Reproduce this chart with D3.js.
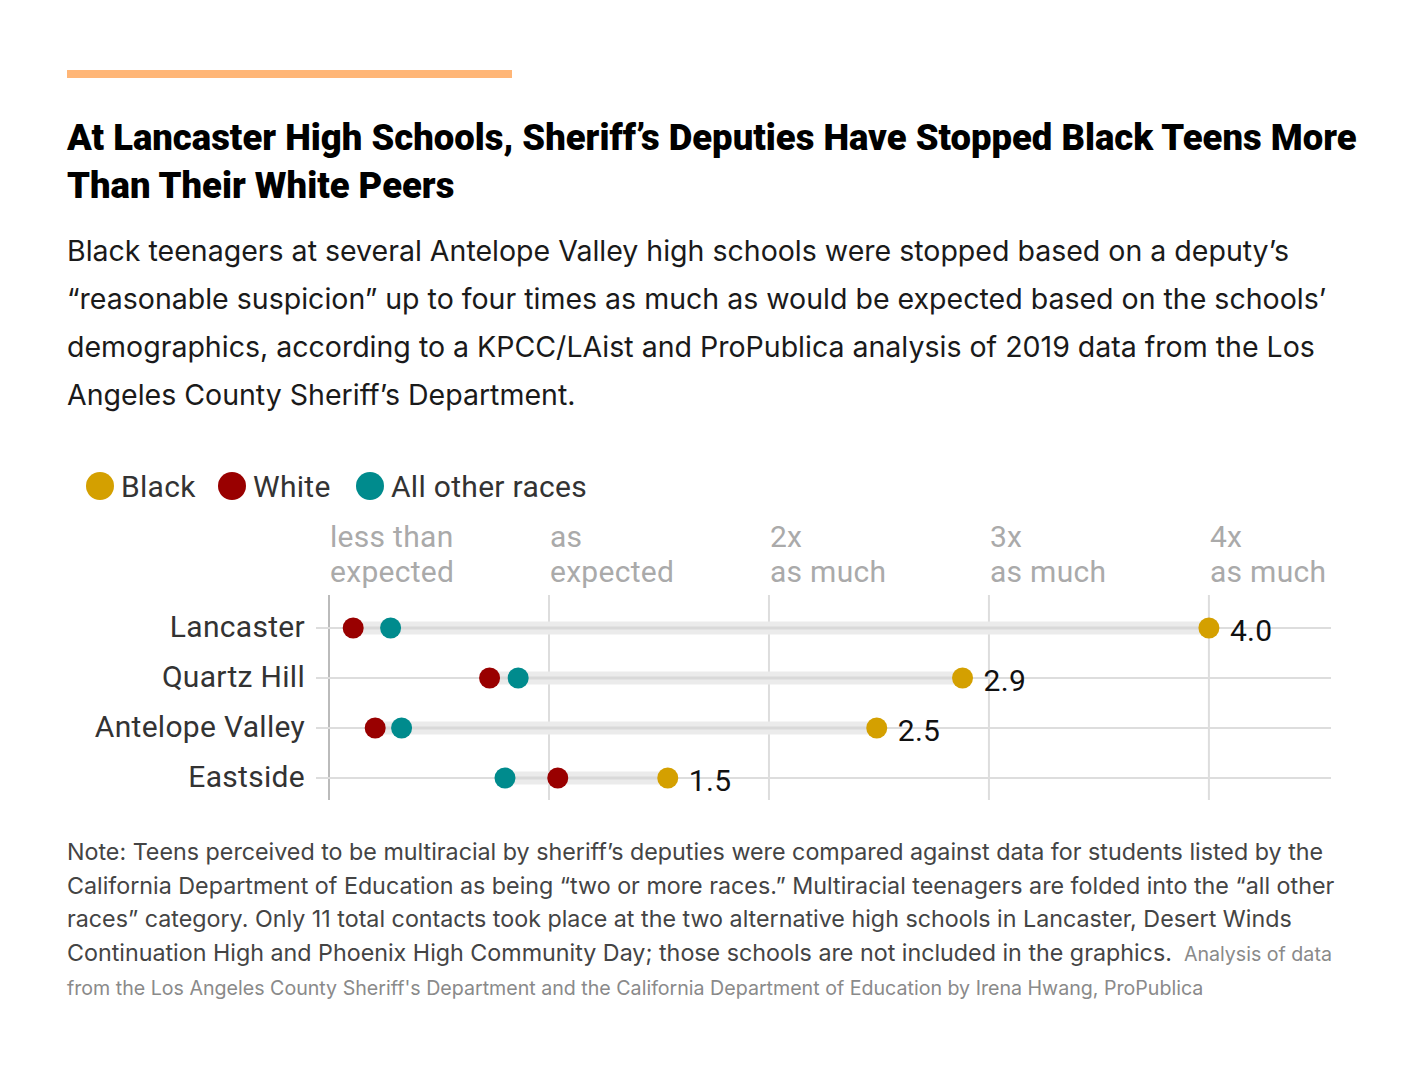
<!DOCTYPE html>
<meta charset="utf-8">
<script src="https://d3js.org/d3.v7.js"></script>
<style>
  body { margin: 0; background: #fff; }
</style>
<div id="my_dataviz"></div>
<script>

// data
const schools = ["Lancaster", "Quartz Hill", "Antelope Valley", "Eastside"];
const black = [4.0, 2.88, 2.49, 1.54];
const white = [0.11, 0.73, 0.21, 1.04];
const other = [0.28, 0.86, 0.33, 0.80];
const blackLabels = ["4.0", "2.9", "2.5", "1.5"];
const tickValues = [0, 1, 2, 3, 4];
const tickLines = [["less than", "expected"], ["as", "expected"], ["2x", "as much"], ["3x", "as much"], ["4x", "as much"]];
const raceNames = ["Black", "White", "All other races"];
const raceColours = ["#d4a000", "#990000", "#008b8d"];

const titleLines = [
  "At Lancaster High Schools, Sheriff\u2019s Deputies Have Stopped Black Teens More",
  "Than Their White Peers"
];
const subLines = [
  "Black teenagers at several Antelope Valley high schools were stopped based on a deputy\u2019s",
  "\u201creasonable suspicion\u201d up to four times as much as would be expected based on the schools\u2019",
  "demographics, according to a KPCC/LAist and ProPublica analysis of 2019 data from the Los",
  "Angeles County Sheriff\u2019s Department."
];
const noteLines = [
  "Note: Teens perceived to be multiracial by sheriff\u2019s deputies were compared against data for students listed by the",
  "California Department of Education as being \u201ctwo or more races.\u201d Multiracial teenagers are folded into the \u201call other",
  "races\u201d category. Only 11 total contacts took place at the two alternative high schools in Lancaster, Desert Winds",
  "Continuation High and Phoenix High Community Day; those schools are not included in the graphics."
];
const sourceLines = [
  "Analysis of data",
  "from the Los Angeles County Sheriff's Department and the California Department of Education by Irena Hwang, ProPublica"
];

var width = 1420, height = 1066, left = 67;
var chartFont = "Roboto", chartSize = 30, chartSpacing = "0.3px";

var svg = d3.select("#my_dataviz").append("svg")
    .attr("width", width)
    .attr("height", height);

// shrink/grow a block of lines so its widest line hits a target width
function fitBlock(sel, target) {
  var w = d3.max(sel.nodes(), n => n.getComputedTextLength());
  var fs = parseFloat(sel.attr("font-size"));
  sel.attr("font-size", fs * target / w);
}

// orange rule
svg.append("rect")
  .attr("x", left).attr("y", 70)
  .attr("width", 445).attr("height", 8)
  .attr("fill", "#ffb677");

var title = svg.selectAll("text.title")
  .data(titleLines)
  .enter().append("text")
    .attr("class", "title")
    .attr("x", left)
    .attr("y", (d, i) => 150 + i * 48)
    .attr("font-family", "Roboto")
    .attr("font-weight", 900)
    .attr("font-size", 32)
    .attr("fill", "#000")
    .text(d => d);
fitBlock(title, 1290);

var sub = svg.selectAll("text.sub")
  .data(subLines)
  .enter().append("text")
    .attr("class", "sub")
    .attr("x", left)
    .attr("y", (d, i) => 261 + i * 48)
    .attr("font-family", "Inter")
    .attr("font-size", 25)
    .attr("fill", "#1a1a1a")
    .text(d => d);
fitBlock(sub, 1260);

// legend
var legX = [100, 232, 370];
var legend = svg.selectAll("g.legend")
  .data(raceNames)
  .enter().append("g")
    .attr("class", "legend");
legend.append("circle")
  .attr("cx", (d, i) => legX[i])
  .attr("cy", 486)
  .attr("r", 14)
  .attr("fill", (d, i) => raceColours[i]);
legend.append("text")
  .attr("x", (d, i) => legX[i] + 21)
  .attr("y", 497)
  .attr("font-family", chartFont)
  .attr("font-size", chartSize)
  .attr("letter-spacing", chartSpacing)
  .attr("fill", "#333")
  .text(d => d);

// scales
var xScale = d3.scaleLinear()
    .domain([0, 4.555])
    .range([329, 1331]);

var yScale = d3.scalePoint()
    .domain(schools)
    .range([628, 778]);

var gridTop = 595, gridBottom = 800;

// vertical grid
svg.selectAll("line.vgrid")
  .data(tickValues)
  .enter().append("line")
    .attr("class", "vgrid")
    .attr("x1", d => xScale(d)).attr("x2", d => xScale(d))
    .attr("y1", gridTop).attr("y2", gridBottom)
    .attr("stroke", d => d === 0 ? "#bbb" : "#ddd")
    .attr("stroke-width", 2);

// tick headers
var head = svg.selectAll("g.head")
  .data(tickValues)
  .enter().append("g")
    .attr("class", "head");
head.selectAll("text")
  .data((d, i) => tickLines[i].map(t => ({v: d, t: t})))
  .enter().append("text")
    .attr("x", d => xScale(d.v) + 1)
    .attr("y", (d, j) => 547 + j * 35)
    .attr("font-family", chartFont)
    .attr("font-size", chartSize)
    .attr("letter-spacing", chartSpacing)
    .attr("fill", "#aaa")
    .text(d => d.t);

// horizontal grid per school
svg.selectAll("line.hgrid")
  .data(schools)
  .enter().append("line")
    .attr("class", "hgrid")
    .attr("x1", 316).attr("x2", 1331)
    .attr("y1", d => yScale(d)).attr("y2", d => yScale(d))
    .attr("stroke", "#ddd")
    .attr("stroke-width", 2);

// row labels
svg.selectAll("text.row")
  .data(schools)
  .enter().append("text")
    .attr("class", "row")
    .attr("x", 305)
    .attr("y", d => yScale(d) + 9)
    .attr("text-anchor", "end")
    .attr("font-family", chartFont)
    .attr("font-size", chartSize)
    .attr("letter-spacing", chartSpacing)
    .attr("fill", "#333")
    .text(d => d);

var rows = schools.map((s, i) => ({
  school: s,
  vals: [black[i], white[i], other[i]],
  label: blackLabels[i]
}));

// range bands
var band = svg.selectAll("g.band")
  .data(rows)
  .enter().append("g")
    .attr("class", "band");
band.append("rect")
  .attr("x", d => xScale(d3.min(d.vals)))
  .attr("y", d => yScale(d.school) - 6.5)
  .attr("width", d => xScale(d3.max(d.vals)) - xScale(d3.min(d.vals)))
  .attr("height", 13)
  .attr("fill", "#ebebeb");
band.append("line")
  .attr("x1", d => xScale(d3.min(d.vals)))
  .attr("x2", d => xScale(d3.max(d.vals)))
  .attr("y1", d => yScale(d.school)).attr("y2", d => yScale(d.school))
  .attr("stroke", "#d9d9d9")
  .attr("stroke-width", 3);

// dots
band.selectAll("circle")
  .data(d => d.vals.map((v, k) => ({school: d.school, v: v, k: k})))
  .enter().append("circle")
    .attr("cx", d => xScale(d.v))
    .attr("cy", d => yScale(d.school))
    .attr("r", 10.5)
    .attr("fill", d => raceColours[d.k]);

// value labels
band.append("text")
  .attr("x", d => xScale(d.vals[0]) + 21)
  .attr("y", d => yScale(d.school) + 13)
  .attr("font-family", chartFont)
  .attr("font-size", 30)
  .attr("letter-spacing", chartSpacing)
  .attr("fill", "#111")
  .text(d => d.label);

// note
var note = svg.selectAll("text.note")
  .data(noteLines)
  .enter().append("text")
    .attr("class", "note")
    .attr("x", left)
    .attr("y", (d, i) => 860 + i * 33.7)
    .attr("font-family", "Inter")
    .attr("font-size", 21)
    .attr("fill", "#444")
    .text(d => d);
fitBlock(note, 1268);

var src2 = svg.append("text")
  .attr("x", left)
  .attr("y", 995)
  .attr("font-family", "Inter")
  .attr("font-size", 18)
  .attr("fill", "#8a8a8a")
  .text(sourceLines[1]);
fitBlock(src2, 1137);

var lastNote = note.nodes()[noteLines.length - 1];
var srcX = left + lastNote.getComputedTextLength() + 12;

svg.append("text")
  .attr("x", srcX)
  .attr("y", 961)
  .attr("font-family", "Inter")
  .attr("font-size", src2.attr("font-size"))
  .attr("fill", "#8a8a8a")
  .text(sourceLines[0]);

</script>
